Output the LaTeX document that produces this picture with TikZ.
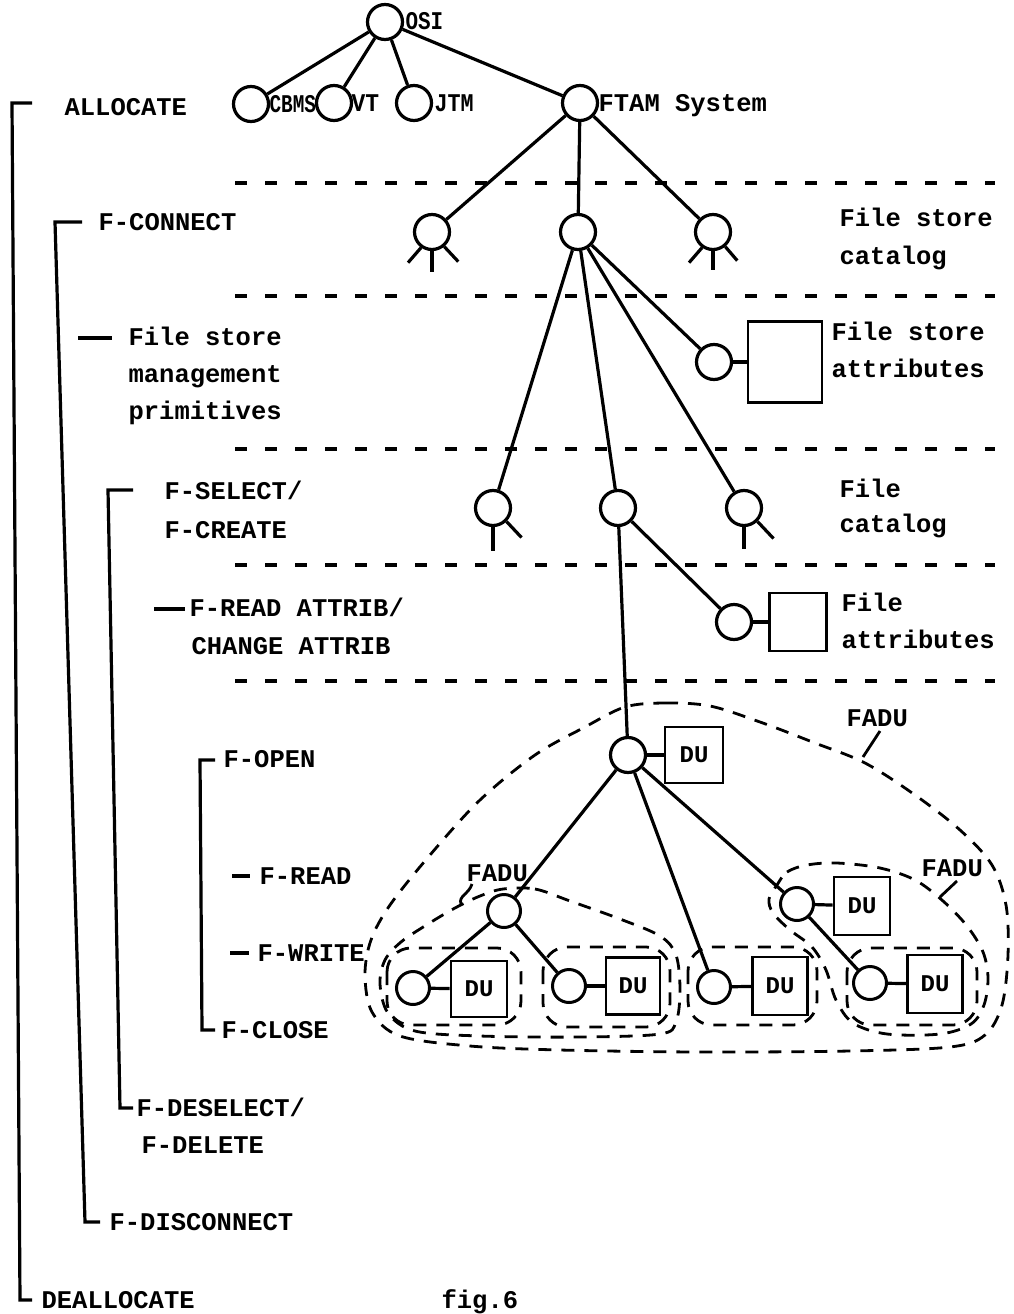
\documentclass[tikz,border=0pt]{standalone}
\usepackage{fontspec}
\setmonofont{Liberation Mono}
\begin{document}
\begin{tikzpicture}[x=1pt,y=-1pt,line width=3.2pt,
  cn/.style={circle,draw,minimum size=35pt,inner sep=0pt,line width=3.2pt},
  sn/.style={circle,draw,minimum size=33pt,inner sep=0pt,line width=3pt},
  dubox/.style={draw,rectangle,inner sep=0pt,line width=2.8pt,font=\ttfamily\bfseries\fontsize{24}{26}\selectfont},
  txt/.style={anchor=base west,inner sep=0pt,font=\ttfamily\bfseries\fontsize{25.5}{30}\selectfont},
  sepline/.style={line width=3.2pt,dash pattern=on 12pt off 18pt},
  fadu/.style={line width=2.8pt,dash pattern=on 13pt off 10pt},
  leg/.style={line width=3.2pt}]
\useasboundingbox (0,0) rectangle (1013,1314);
\fill[white] (0,0) rectangle (1013,1314);

% separators
\foreach \yy in {183,296,449,565,681}{\draw[sepline] (235,\yy) -- (995,\yy);}

% top tree
\node[cn] (osi) at (385,22) {};
\node[cn] (cbms) at (251,104) {};
\node[cn] (vt) at (334,103) {};
\node[cn] (jtm) at (414,103) {};
\node[cn] (ftam) at (580,103) {};
\node[txt] (tosi) at (404,30) {\scalebox{0.82}[1]{OSI}};
\node[txt] (tcbms) at (268,112) {\scalebox{0.76}[1]{CBMS}};
\node[txt] (tvt) at (350,111) {\scalebox{0.9}[1]{VT}};
\node[txt] (tjtm) at (433,111) {\scalebox{0.85}[1]{JTM}};
\node[txt] (tftam) at (597,111) {FTAM System};
\draw (osi) -- (cbms);
\draw (osi) -- (vt);
\draw (osi) -- (jtm);
\draw (osi) -- (ftam);

% file store catalog level
\node[cn] (fsc1) at (432,232) {};
\node[cn] (fsc2) at (578,232) {};
\node[cn] (fsc3) at (713,232) {};
\draw (ftam) -- (fsc1);
\draw (ftam) -- (fsc2);
\draw (ftam) -- (fsc3);
\draw[leg] (fsc1.-125) -- ++(-13,15);
\draw[leg] (fsc1.-90) -- ++(0,21);
\draw[leg] (fsc1.-50) -- ++(14,15);
\draw[leg] (fsc3.-125) -- ++(-13,15);
\draw[leg] (fsc3.-90) -- ++(0,19);
\draw[leg] (fsc3.-50) -- ++(12,14);
\node[txt] (tfsc1) at (838,226) {File store};
\node[txt] (tfsc2) at (838,264) {catalog};

% file store attributes
\node[cn] (fsa) at (714,362) {};
\node[draw,rectangle,inner sep=0pt,minimum width=74pt,minimum height=81pt,line width=2.8pt] (fsab) at (785,362) {};
\draw (fsa) -- (fsab);
\node[txt] (tfsa1) at (830,340) {File store};
\node[txt] (tfsa2) at (830,377) {attributes};

% file catalog level
\node[cn] (fa) at (493,508) {};
\node[cn] (fb) at (618,508) {};
\node[cn] (fc) at (744,508) {};
\draw (fsc2) -- (fa);
\draw (fsc2) -- (fb);
\draw (fsc2) -- (fc);
\draw (fsc2) -- (fsa);
\draw[leg] (fa.-90) -- ++(0,24);
\draw[leg] (fa.-45) -- ++(15,16);
\draw[leg] (fc.-90) -- ++(0,22);
\draw[leg] (fc.-45) -- ++(16,17);
\node[txt] (tfc1) at (838,497) {File};
\node[txt] (tfc2) at (838,532) {catalog};

% file attributes
\node[cn] (fat) at (734,622) {};
\node[draw,rectangle,inner sep=0pt,minimum width=57pt,minimum height=58pt,line width=2.8pt] (fatb) at (798,622) {};
\draw (fb) -- (fat);
\draw (fat) -- (fatb);
\node[txt] (tfa1) at (840,611) {File};
\node[txt] (tfa2) at (840,648) {attributes};

% FADU tree
\node[cn] (fo) at (628,755) {};
\node[dubox,minimum width=58pt,minimum height=56pt] (fob) at (694,755) {DU};
\draw (fb) -- (fo);
\draw (fo) -- (fob);

\node[sn] (m1) at (504,911) {};
\node[sn] (m2) at (797,904) {};
\node[dubox,minimum width=56pt,minimum height=58pt] (m2b) at (862,906) {DU};
\draw (m2) -- (m2b);

\node[sn] (p1c) at (413,988) {};
\node[dubox,minimum width=56pt,minimum height=56pt] (p1b) at (479,989) {DU};
\node[sn] (p2c) at (569,986) {};
\node[dubox,minimum width=54pt,minimum height=57pt] (p2b) at (633,986) {DU};
\node[sn] (p3c) at (714,987) {};
\node[dubox,minimum width=55pt,minimum height=58pt] (p3b) at (780,986) {DU};
\node[sn] (p4c) at (870,983) {};
\node[dubox,minimum width=55pt,minimum height=58pt] (p4b) at (935,984) {DU};
\draw (p1c) -- (p1b);
\draw (p2c) -- (p2b);
\draw (p3c) -- (p3b);
\draw (p4c) -- (p4b);

\draw (fo) -- (m1);
\draw (fo) -- (p3c);
\draw (fo) -- (m2);
\draw (m1) -- (p1c);
\draw (m1) -- (p2c);
\draw (m2) -- (p4c);

% FADU outlines
\draw[fadu] plot[smooth cycle,tension=0.55] coordinates {
 (625,707) (665,703) (710,706) (760,722) (815,743) (865,763) (915,795) (960,830)
 (992,865) (1006,905) (1008,955) (1002,1005) (985,1035) (950,1047) (850,1051)
 (700,1052) (560,1050) (470,1046) (400,1036) (372,1012) (365,975) (371,940)
 (390,905) (430,855) (480,800) (535,755) (585,727)};
\draw[fadu] plot[smooth cycle,tension=0.55] coordinates {
 (503,889) (535,889) (570,901) (620,919) (660,936) (676,955) (680,990) (676,1022)
 (660,1034) (580,1037) (480,1036) (415,1031) (388,1013) (380,984) (385,960)
 (401,942) (428,924) (455,908) (480,896)};
\draw[fadu] plot[smooth cycle,tension=0.55] coordinates {
 (777,885) (787,872) (807,865) (837,863) (880,868) (915,880) (943,901) (967,926)
 (983,952) (988,978) (984,1005) (971,1024) (940,1034) (887,1034) (853,1023)
 (836,1000) (826,970) (812,947) (790,930) (773,913) (769,899)};
\draw[fadu,rounded corners=24pt] (387,948) rectangle (521,1025);
\draw[fadu,rounded corners=24pt] (543,947) rectangle (670,1027);
\draw[fadu,rounded corners=24pt] (688,947) rectangle (817,1025);
\draw[fadu,rounded corners=24pt] (847,948) rectangle (977,1025);

\node[txt] (fadu1) at (845,726) {FADU};
\node[txt] (fadu2) at (465,881) {FADU};
\node[txt] (fadu3) at (920,876) {FADU};
\coordinate (k1a) at (863,757);
\coordinate (k1b) at (880,731);
\draw[line width=2.8pt] (k1a) -- (k1b);
\coordinate (k2a) at (472,884);
\coordinate (k2b) at (461,904);
\draw[line width=2.8pt] (k2a) .. controls (469,894) and (458,896) .. (k2b);
\coordinate (k3a) at (940,897);
\coordinate (k3b) at (957,881);
\draw[line width=2.8pt] (k3a) -- (k3b);

% left brackets
\draw[leg] (32,103) -- (12,103) -- (20,1300) -- (32,1300);
\draw[leg] (82,222) -- (55,222) -- (85,1222) -- (100,1222);
\draw[leg] (78,338) -- (112,338);
\draw[leg] (133,490) -- (108,490) -- (120,1108) -- (133,1108);
\draw[leg] (154,609) -- (185,609);
\draw[leg] (215,760) -- (200,760) -- (202,1030) -- (215,1030);
\draw[leg] (232,876) -- (250,876);
\draw[leg] (230,953) -- (249,953);

\node[txt] (t1) at (63,115) {ALLOCATE};
\node[txt] (t2) at (97,230) {F-CONNECT};
\node[txt] (t3) at (127,345) {File store};
\node[txt] (t4) at (127,382) {management};
\node[txt] (t5) at (127,419) {primitives};
\node[txt] (t6) at (163,499) {F-SELECT/};
\node[txt] (t7) at (163,538) {F-CREATE};
\node[txt] (t8) at (188,616) {F-READ ATTRIB/};
\node[txt] (t9) at (190,654) {CHANGE ATTRIB};
\node[txt] (t10) at (222,767) {F-OPEN};
\node[txt] (t11) at (258,884) {F-READ};
\node[txt] (t12) at (256,961) {F-WRITE};
\node[txt] (t13) at (220,1038) {F-CLOSE};
\node[txt] (t14) at (135,1116) {F-DESELECT/};
\node[txt] (t15) at (140,1153) {F-DELETE};
\node[txt] (t16) at (108,1230) {F-DISCONNECT};
\node[txt] (t17) at (40,1308) {DEALLOCATE};
\node[txt] (t18) at (440,1308) {fig.6};
\end{tikzpicture}
\end{document}
